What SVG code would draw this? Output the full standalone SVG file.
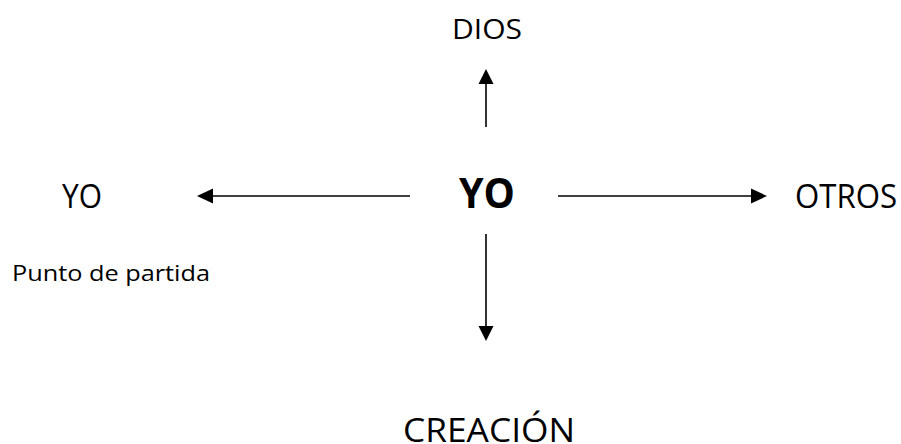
<svg xmlns="http://www.w3.org/2000/svg" width="901" height="444" viewBox="0 0 901 444">
<style>
text{font-family:"Open Sans","Noto Sans","Liberation Sans",sans-serif;fill:#000}
.lbl{font-size:30px}
.edge{stroke:#000;stroke-width:1.6;fill:none}
</style>
<defs>
<marker id="ah" viewBox="0 0 10 10" refX="10" refY="5" markerWidth="10" markerHeight="10" markerUnits="userSpaceOnUse" orient="auto">
<path d="M0,0 L10,5 L0,10 Z" fill="#000"/>
</marker>
</defs>
<rect width="901" height="444" fill="#fff"/>
<g id="connectors">
<path class="edge" d="M486,127 L486,84"/>
<path d="M486,69 L493.5,84 L478.5,84 Z" fill="#000"/>
<path class="edge" d="M410,196 L212,196"/>
<path d="M197,196 L213,188.5 L213,203.5 Z" fill="#000"/>
<path class="edge" d="M558,196 L752,196"/>
<path d="M767,196 L751,188.5 L751,203.5 Z" fill="#000"/>
<path class="edge" d="M486,234 L486,326"/>
<path d="M486,341 L478.5,326 L493.5,326 Z" fill="#000"/>
</g>
<g id="node-dios"><text class="lbl" x="487" y="38.5" text-anchor="middle" textLength="70" lengthAdjust="spacingAndGlyphs" style="font-size:28px">DIOS</text></g>
<g id="node-yo-center"><text x="487" y="208" text-anchor="middle" textLength="56" lengthAdjust="spacingAndGlyphs" style="font-size:41px;font-weight:bold">YO</text></g>
<g id="node-yo-left"><text class="lbl" x="82" y="207.5" text-anchor="middle" textLength="40" lengthAdjust="spacingAndGlyphs" style="font-size:32px">YO</text></g>
<g id="node-otros"><text class="lbl" x="846" y="207.5" text-anchor="middle" textLength="102" lengthAdjust="spacingAndGlyphs" style="font-size:32px">OTROS</text></g>
<g id="label-punto"><text x="12" y="281" textLength="198" lengthAdjust="spacingAndGlyphs" style="font-size:21px">Punto de partida</text></g>
<g id="node-creacion"><text x="403" y="442" textLength="172" lengthAdjust="spacingAndGlyphs" style="font-size:33px">CREACIÓN</text></g>
</svg>
